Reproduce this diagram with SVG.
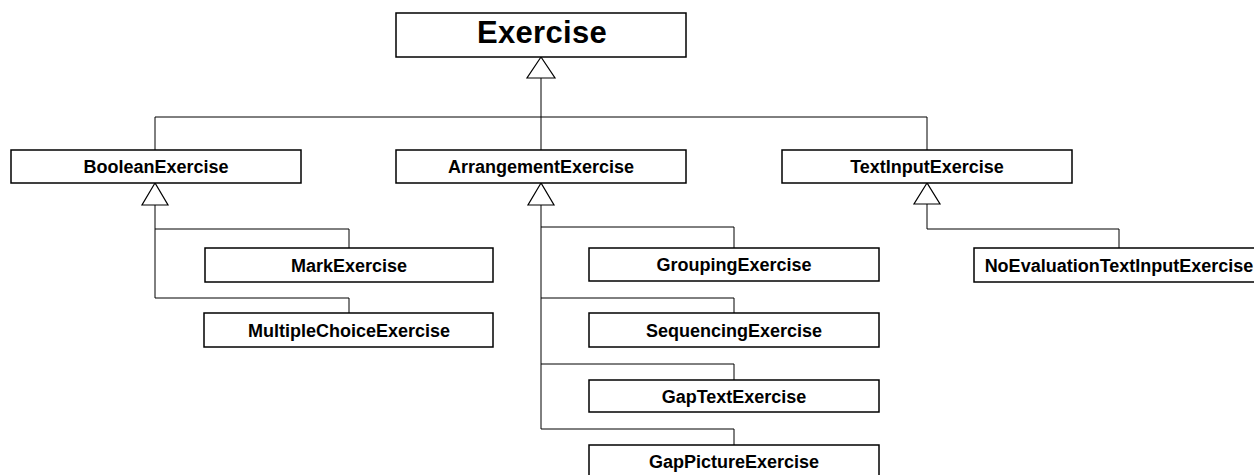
<svg xmlns="http://www.w3.org/2000/svg" width="1254" height="475" viewBox="0 0 1254 475">
<style>
.box{fill:#fff;stroke:#000;stroke-width:1.5}
.lbl{font-family:"Liberation Sans",Arial,sans-serif;font-weight:bold;font-size:18px;text-anchor:middle;fill:#000}
.big{font-size:31px;letter-spacing:0.3px}
.conn{fill:none;stroke:#000;stroke-width:1}
.tri{fill:#fff;stroke:#000;stroke-width:1.2}
</style>
<rect width="1254" height="475" fill="#fff"/>
<g id="connectors">
<path class="conn" d="M541,78 V150 M155,150 V117 H927 V150"/>
<path class="conn" d="M155,205 V298 H349 V313 M155,229 H349 V248"/>
<path class="conn" d="M541,205 V429 H734 V445 M541,227 H734 V248 M541,298 H734 V313 M541,364 H734 V380"/>
<path class="conn" d="M927,204 V229 H1119 V248"/>
<polygon class="tri" points="541,57 527,78 555,78"/>
<polygon class="tri" points="155,183 142,205 168,205"/>
<polygon class="tri" points="541,183 528,205 554,205"/>
<polygon class="tri" points="927,183 914,204 940,204"/>
</g>
<g id="Exercise"><rect class="box" x="396" y="13" width="290" height="44"/><text class="lbl big" x="542" y="43">Exercise</text></g>
<g id="BooleanExercise"><rect class="box" x="11" y="150" width="290" height="33"/><text class="lbl" x="156" y="173">BooleanExercise</text></g>
<g id="ArrangementExercise"><rect class="box" x="396" y="150" width="290" height="33"/><text class="lbl" x="541" y="173">ArrangementExercise</text></g>
<g id="TextInputExercise"><rect class="box" x="782" y="150" width="290" height="33"/><text class="lbl" x="927" y="173">TextInputExercise</text></g>
<g id="MarkExercise"><rect class="box" x="205" y="248" width="288" height="34"/><text class="lbl" x="349" y="272">MarkExercise</text></g>
<g id="MultipleChoiceExercise"><rect class="box" x="204" y="313" width="289" height="34"/><text class="lbl" x="349" y="337">MultipleChoiceExercise</text></g>
<g id="GroupingExercise"><rect class="box" x="589" y="248" width="290" height="33"/><text class="lbl" x="734" y="271">GroupingExercise</text></g>
<g id="SequencingExercise"><rect class="box" x="589" y="313" width="290" height="34"/><text class="lbl" x="734" y="337">SequencingExercise</text></g>
<g id="GapTextExercise"><rect class="box" x="589" y="380" width="290" height="32"/><text class="lbl" x="734" y="403">GapTextExercise</text></g>
<g id="GapPictureExercise"><rect class="box" x="589" y="445" width="290" height="40"/><text class="lbl" x="734" y="468">GapPictureExercise</text></g>
<g id="NoEvaluationTextInputExercise"><rect class="box" x="974" y="248" width="290" height="34"/><text class="lbl" x="1119" y="272">NoEvaluationTextInputExercise</text></g>
</svg>
